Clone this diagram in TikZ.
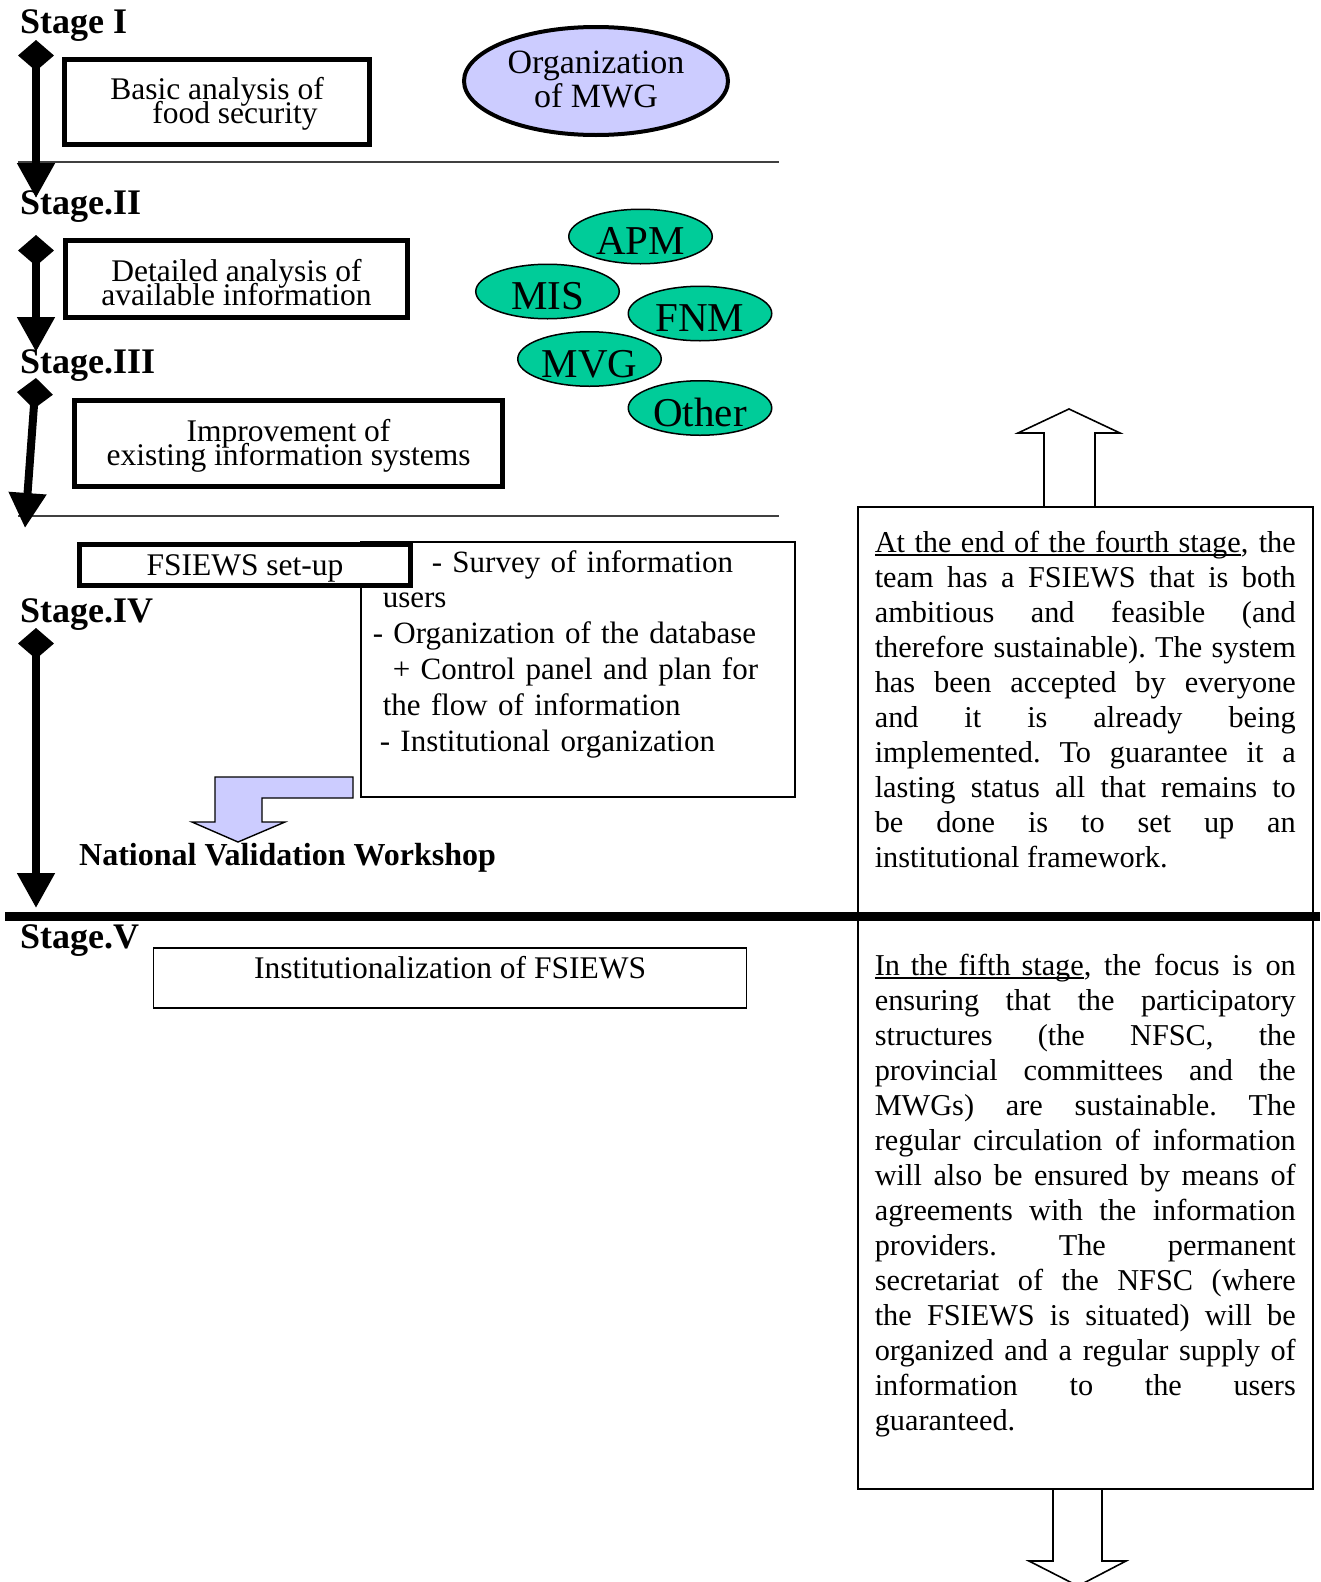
\documentclass[tikz,border=0pt]{standalone}
\usepackage{fontspec}
\setmainfont{Liberation Serif}
\usetikzlibrary{arrows.meta,shapes.geometric}
\definecolor{mwgblue}{RGB}{204,204,255}
\definecolor{sysgreen}{RGB}{0,204,153}
\hyphenpenalty=10000
\exhyphenpenalty=10000
\tolerance=10000
\lineskiplimit=-100pt
\frenchspacing
\newsavebox\ulinebox
% underlined phrase, spread to a given width
\newcommand\ulinetext[2]{\sbox\ulinebox{\makebox[#1][s]{#2}}\rlap{\rule[-3.5pt]{\wd\ulinebox}{1.3pt}}\usebox\ulinebox}
\begin{document}
\begin{tikzpicture}[x=1pt,y=-1pt,
  stagelabel/.style={anchor=base west, inner sep=0pt, font=\fontsize{36}{40}\selectfont\bfseries},
  thickbox/.style={draw, line width=5pt, fill=white, inner sep=0pt, anchor=base, align=center,
    font=\fontsize{31.5}{23.5}\selectfont},
  stagearrow/.style={line width=8pt, {Diamond[width=36pt,length=31pt]}-{Triangle[width=36pt,length=35pt]}},
  sysellipse/.style={ellipse, draw, line width=1.5pt, fill=sysgreen, minimum width=143.5pt,
    minimum height=54.5pt, inner sep=0pt, text height=36pt, text depth=0pt,
    font=\fontsize{41}{41}\selectfont},
  divider/.style={line width=1.8pt, black!75},
  thinbox/.style={draw, line width=1.6pt},
  notebox/.style={draw, line width=1.6pt, anchor=base west, inner xsep=17pt, inner ysep=0pt,
    text width=421pt, align=justify, font=\fontsize{30.3}{35}\selectfont},
  hollowarrow/.style={draw, line width=1.6pt, fill=white, line join=miter}
]
\clip (0,0) rectangle (1320,1582);

% stage dividers
\coordinate (d1a) at (18,162);  \coordinate (d1b) at (779,162);
\coordinate (d2a) at (18,516);  \coordinate (d2b) at (779,516);
\draw[divider] (d1a) -- (d1b);
\draw[divider] (d2a) -- (d2b);

% stage headings
\node[stagelabel] (st1) at (20,33)  {Stage I};
\node[stagelabel] (st2) at (20,214) {Stage.II};
\node[stagelabel] (st3) at (20,373) {Stage.III};
\node[stagelabel] (st4) at (20,622) {Stage.IV};
\node[stagelabel] (st5) at (20,948) {Stage.V};

% stage I (two-line boxes are placed by the baseline of their last line)
\node[thickbox, minimum width=305pt, text height=63.5pt, text depth=21.5pt] (b1) at (217,123)
  {Basic analysis of\\\hspace*{36pt}food security};
\node[ellipse, draw, line width=4pt, fill=mwgblue, minimum width=264pt, minimum height=108pt,
  inner sep=0pt, text height=60pt, text depth=8pt, align=center,
  font=\fontsize{34}{34}\selectfont] (mwg) at (596,81) {Organization\\of MWG};

% stage II and III
\node[thickbox, minimum width=342pt, text height=64.5pt, text depth=12.5pt] (b2) at (236.5,305)
  {Detailed analysis of\\available information};
\node[thickbox, minimum width=428pt, text height=64.5pt, text depth=21.5pt] (b3) at (288.5,465)
  {Improvement of\\existing information systems};

\node[sysellipse] (apm) at (640.5,236.5) {APM};
\node[sysellipse] (mis) at (547.5,291.5) {MIS};
\node[sysellipse] (fnm) at (700,313.5) {FNM};
\node[sysellipse] (mvg) at (589.5,359) {MVG};
\node[sysellipse] (oth) at (700,408) {Other};

% stage IV
\node[thinbox, anchor=base west, inner xsep=12pt, inner ysep=0pt, text width=410pt,
  text height=30pt, text depth=225pt, align=left, font=\fontsize{31}{35.8}\selectfont] (tasks) at (360,572)
  {\hspace*{59pt}- Survey of information\\\hspace*{10pt}users\\- Organization of the database\\\hspace*{20pt}+ Control panel and plan for\\\hspace*{10pt}the flow of information\\\hspace*{7pt}- Institutional organization};
\node[thickbox, minimum width=331pt, text height=30.5pt, text depth=10.5pt] (setup) at (245,575)
  {FSIEWS set-up};

\draw[line width=1.4pt, fill=mwgblue, line join=miter]
  (353,777) -- (353,798) -- (262,798) -- (262,822) -- (285,822) -- (238,842)
  -- (192,822) -- (215,822) -- (215,777) -- cycle;
\node[anchor=base west, inner sep=0pt, font=\fontsize{32}{36}\selectfont\bfseries] (nvw) at (79,865)
  {National Validation Workshop};

% stage V
\node[thinbox, anchor=base, minimum width=593pt, inner sep=0pt, text height=30pt, text depth=30pt,
  font=\fontsize{31.5}{36}\selectfont] (inst) at (450,978) {Institutionalization of FSIEWS};

% explanatory notes
\node[notebox, text height=45pt, text depth=364pt] (note4) at (857,552)
  {\ulinetext{366pt}{At the end of the fourth stage}, the\linebreak
   team has a FSIEWS that is both\linebreak
   ambitious and feasible (and\linebreak
   therefore sustainable). The system\linebreak
   has been accepted by everyone\linebreak
   and it is already being\linebreak
   implemented. To guarantee it a\linebreak
   lasting status all that remains to\linebreak
   be done is to set up an\linebreak
   institutional framework.};
\node[notebox, text height=59pt, text depth=514pt] (note5) at (857,975)
  {\ulinetext{209pt}{In the fifth stage}, the focus is on\linebreak
   ensuring that the participatory\linebreak
   structures (the NFSC, the\linebreak
   provincial committees and the\linebreak
   MWGs) are sustainable. The\linebreak
   regular circulation of information\linebreak
   will also be ensured by means of\linebreak
   agreements with the information\linebreak
   providers. The permanent\linebreak
   secretariat of the NFSC (where\linebreak
   the FSIEWS is situated) will be\linebreak
   organized and a regular supply of\linebreak
   information to the users\linebreak
   guaranteed.};

\draw[hollowarrow] (1044,507) -- (1044,433) -- (1018,433) -- (1069,409) -- (1120,433)
  -- (1095,433) -- (1095,507) -- cycle;
\draw[hollowarrow] (1053,1489) -- (1053,1561) -- (1029,1561) -- (1078,1586) -- (1126,1561)
  -- (1102,1561) -- (1102,1489) -- cycle;

% heavy boundary between stage IV and stage V
\coordinate (tla) at (5,916); \coordinate (tlb) at (1320,916);
\draw[line width=9pt] (tla) -- (tlb);

% stage progression arrows
\coordinate (a1s) at (36,40);  \coordinate (a1e) at (36,198);
\coordinate (a2s) at (36,235); \coordinate (a2e) at (36,352);
\coordinate (a3s) at (36,378); \coordinate (a3e) at (25,528);
\coordinate (a4s) at (36,628); \coordinate (a4e) at (36,908);
\draw[stagearrow] (a1s) -- (a1e);
\draw[stagearrow] (a2s) -- (a2e);
\draw[stagearrow] (a3s) -- (a3e);
\draw[stagearrow] (a4s) -- (a4e);
\end{tikzpicture}
\end{document}
